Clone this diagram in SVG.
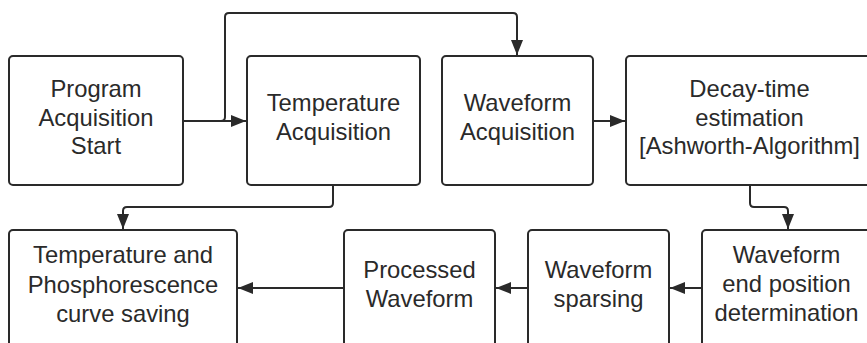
<svg xmlns="http://www.w3.org/2000/svg" width="867" height="343" viewBox="0 0 867 343">
<defs>
<style>
.box{fill:#fff;stroke:#2a2a2a;stroke-width:2}
.lbl{font-family:"Liberation Sans",Arial,sans-serif;font-size:23.8px;fill:#2a2a2a;text-anchor:middle}
.con{fill:none;stroke:#2a2a2a;stroke-width:2}
</style>
<marker id="ah" viewBox="0 0 15 12" refX="15" refY="6" markerWidth="15" markerHeight="12" markerUnits="userSpaceOnUse" orient="auto">
<path d="M0,0 L15,6 L0,12 Z" fill="#2a2a2a"/>
</marker>
</defs>
<rect width="867" height="343" fill="#fff"/>
<g id="connectors">
<path class="con" d="M183,121 L246,121" marker-end="url(#ah)"/>
<path class="con" d="M221,121 Q225,121 225,117 L225,17 Q225,13 229,13 L513,13 Q517,13 517,17 L517,55" marker-end="url(#ah)"/>
<path class="con" d="M593,121 L625,121" marker-end="url(#ah)"/>
<path class="con" d="M333,185 L333,203 Q333,207 329,207 L127,207 Q123,207 123,211 L123,229" marker-end="url(#ah)"/>
<path class="con" d="M750,185 L750,203 Q750,207 754,207 L784,207 Q788,207 788,211 L788,229" marker-end="url(#ah)"/>
<path class="con" d="M702,288 L670,288" marker-end="url(#ah)"/>
<path class="con" d="M528,288 L496,288" marker-end="url(#ah)"/>
<path class="con" d="M344,288 L238,288" marker-end="url(#ah)"/>
</g>
<g id="n1"><rect class="box" x="9" y="56" width="174" height="129" rx="4"/>
<text class="lbl" x="96" y="97">Program</text><text class="lbl" x="96" y="125.5">Acquisition</text><text class="lbl" x="96" y="154">Start</text></g>
<g id="n2"><rect class="box" x="247" y="56" width="173" height="129" rx="4"/>
<text class="lbl" x="333.5" y="111">Temperature</text><text class="lbl" x="333.5" y="139.5">Acquisition</text></g>
<g id="n3"><rect class="box" x="442" y="56" width="151" height="129" rx="4"/>
<text class="lbl" x="517.5" y="111">Waveform</text><text class="lbl" x="517.5" y="139.5">Acquisition</text></g>
<g id="n4"><rect class="box" x="626" y="56" width="248" height="129" rx="4"/>
<text class="lbl" x="749.5" y="97">Decay-time</text><text class="lbl" x="749.5" y="125.5">estimation</text><text class="lbl" x="749.5" y="154">[Ashworth-Algorithm]</text></g>
<g id="n5"><rect class="box" x="702" y="230" width="172" height="130" rx="4"/>
<text class="lbl" x="786.5" y="263">Waveform</text><text class="lbl" x="786.5" y="292">end position</text><text class="lbl" x="786.5" y="321">determination</text></g>
<g id="n6"><rect class="box" x="528" y="230" width="141" height="130" rx="4"/>
<text class="lbl" x="598.5" y="278">Waveform</text><text class="lbl" x="598.5" y="307">sparsing</text></g>
<g id="n7"><rect class="box" x="344" y="230" width="151" height="130" rx="4"/>
<text class="lbl" x="419.5" y="278">Processed</text><text class="lbl" x="419.5" y="307">Waveform</text></g>
<g id="n8"><rect class="box" x="9" y="230" width="228" height="130" rx="4"/>
<text class="lbl" x="123" y="263">Temperature and</text><text class="lbl" x="123" y="292.5">Phosphorescence</text><text class="lbl" x="123" y="322">curve saving</text></g>
</svg>
